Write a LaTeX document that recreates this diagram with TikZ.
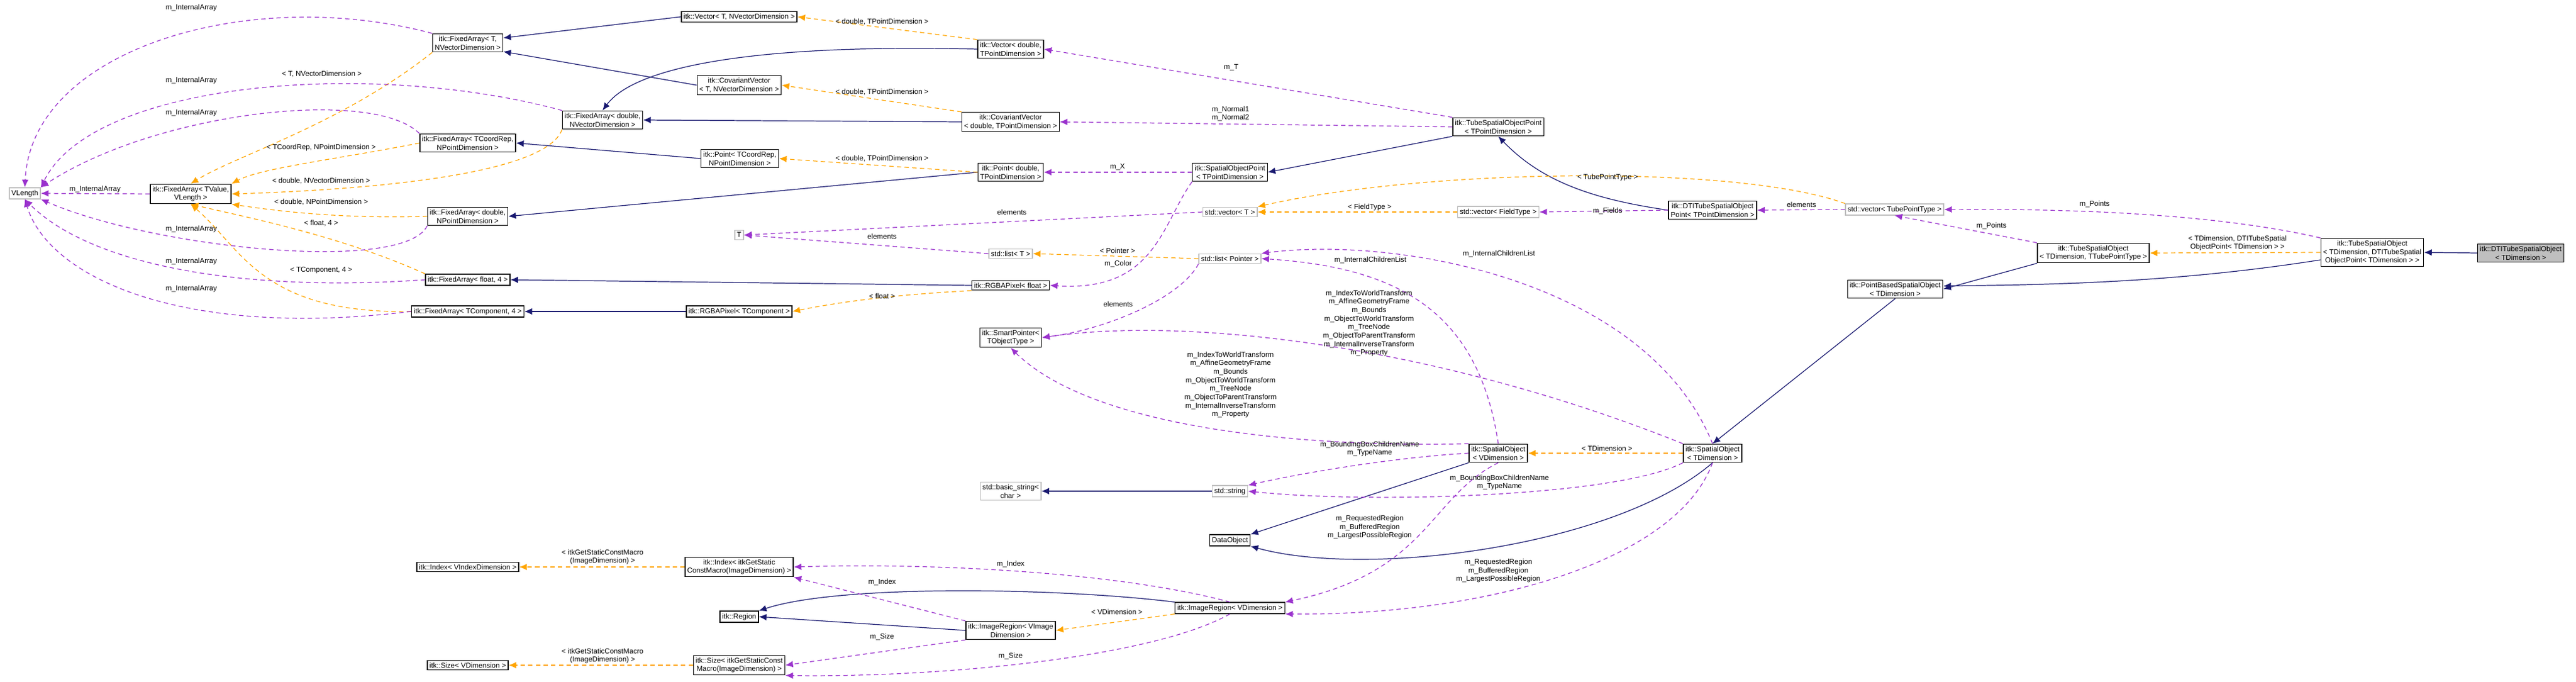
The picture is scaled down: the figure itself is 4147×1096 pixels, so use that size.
\documentclass[tikz,border=0pt]{standalone}
\usepackage{fontspec}
\setmainfont{Liberation Sans}
\usetikzlibrary{arrows.meta}
\definecolor{inhcol}{HTML}{191970}
\definecolor{usecol}{HTML}{9A32CD}
\definecolor{tplcol}{HTML}{FFA500}
\tikzset{
  cls/.style={draw=black, fill=white, line width=0.8pt, align=center, inner sep=2pt, font=\fontsize{6.6}{7.8}\selectfont},
  ext/.style={cls, draw=gray!50},
  main/.style={cls, fill=gray!50},
  lbl/.style={align=center, inner sep=0pt, font=\fontsize{6.6}{7.8}\selectfont},
  inh/.style={draw=inhcol, line width=0.7pt, -{Latex[length=7pt,width=6pt]}},
  use/.style={draw=usecol, line width=0.7pt, dash pattern=on 4pt off 3pt, -{Latex[length=7pt,width=6pt]}},
  tpl/.style={draw=tplcol, line width=0.7pt, dash pattern=on 4pt off 3pt, -{Latex[length=7pt,width=6pt]}}
}
\begin{document}
\begin{tikzpicture}[x=0.02cm, y=-0.02cm]
  \useasboundingbox (0,0) rectangle (4147,1096);

  % 左侧 FixedArray 一族
  \node[ext] (VL) at (40,311) {VLength};
  \node[cls] (FAtv) at (307,312) {itk::FixedArray< TValue,\\VLength >};
  \node[cls] (FAtn) at (753,69) {itk::FixedArray< T,\\NVectorDimension >};
  \node[cls] (FAdn) at (970,193) {itk::FixedArray< double,\\NVectorDimension >};
  \node[cls] (FAcp) at (753,230) {itk::FixedArray< TCoordRep,\\NPointDimension >};
  \node[cls] (FAdp) at (753,348) {itk::FixedArray< double,\\NPointDimension >};
  \node[cls] (FAf4) at (753,450) {itk::FixedArray< float, 4 >};
  \node[cls] (FAc4) at (753,501) {itk::FixedArray< TComponent, 4 >};

  % Vector, Point, Pixel
  \node[cls] (VecT) at (1190,27) {itk::Vector< T, NVectorDimension >};
  \node[cls] (VecD) at (1627,79) {itk::Vector< double,\\TPointDimension >};
  \node[cls] (CovT) at (1190,137) {itk::CovariantVector\\< T, NVectorDimension >};
  \node[cls] (CovD) at (1627,196) {itk::CovariantVector\\< double, TPointDimension >};
  \node[cls] (PtC) at (1191,255) {itk::Point< TCoordRep,\\NPointDimension >};
  \node[cls] (PtD) at (1627,277) {itk::Point< double,\\TPointDimension >};
  \node[ext] (T) at (1190,378) {T};
  \node[ext] (LstT) at (1627,408) {std::list< T >};
  \node[cls] (RgbF) at (1627,459) {itk::RGBAPixel< float >};
  \node[cls] (RgbC) at (1190,501) {itk::RGBAPixel< TComponent >};
  \node[cls] (SmPt) at (1627,543) {itk::SmartPointer<\\TObjectType >};

  % 点类与容器
  \node[cls] (SOPt) at (1980,277) {itk::SpatialObjectPoint\\< TPointDimension >};
  \node[ext] (VecTT) at (1980,341) {std::vector< T >};
  \node[ext] (LstP) at (1980,416) {std::list< Pointer >};
  \node[cls] (TSOPt) at (2412,204) {itk::TubeSpatialObjectPoint\\< TPointDimension >};
  \node[ext] (VecF) at (2412,341) {std::vector< FieldType >};
  \node[cls] (DTIPt) at (2757,338) {itk::DTITubeSpatialObject\\Point< TPointDimension >};
  \node[ext] (VecTP) at (3050,337) {std::vector< TubePointType >};

  % 空间对象
  \node[cls] (PBSO) at (3051,465) {itk::PointBasedSpatialObject\\< TDimension >};
  \node[cls] (TSOt) at (3370,407) {itk::TubeSpatialObject\\< TDimension, TTubePointType >};
  \node[cls] (TSOd) at (3819,406) {itk::TubeSpatialObject\\< TDimension, DTITubeSpatial\\ObjectPoint< TDimension > >};
  \node[main] (DTISO) at (4058,407) {itk::DTITubeSpatialObject\\< TDimension >};
  \node[cls] (SOv) at (2412,729) {itk::SpatialObject\\< VDimension >};
  \node[cls] (SOt) at (2757,729) {itk::SpatialObject\\< TDimension >};
  \node[ext] (BStr) at (1627,790) {std::basic\_string<\\char >};
  \node[ext] (Str) at (1980,790) {std::string};
  \node[cls] (DObj) at (1980,869) {DataObject};

  % 区域
  \node[cls] (IdxV) at (753,912) {itk::Index< VIndexDimension >};
  \node[cls] (IdxM) at (1190,912) {itk::Index< itkGetStatic\\ConstMacro(ImageDimension) >};
  \node[cls] (Reg) at (1190,992) {itk::Region};
  \node[cls] (SzV) at (753,1070) {itk::Size< VDimension >};
  \node[cls] (SzM) at (1190,1070) {itk::Size< itkGetStaticConst\\Macro(ImageDimension) >};
  \node[cls] (IRi) at (1627,1014) {itk::ImageRegion< VImage\\Dimension >};
  \node[cls] (IRv) at (1980,978) {itk::ImageRegion< VDimension >};

  % 继承
  \draw[inh] (VecT.west) -- (FAtn.east |- 0,61);
  \draw[inh] (CovT.west) -- (FAtn.east |- 0,83);
  \draw[inh] (VecD.west) .. controls (1200,70) and (1020,110) .. (FAdn.north);
  \draw[inh] (CovD.west) -- (FAdn.east);
  \draw[inh] (PtC.west) -- (FAcp.east);
  \draw[inh] (PtD.west) -- (FAdp.east);
  \draw[inh] (RgbF.west) -- (FAf4.east);
  \draw[inh] (RgbC.west) -- (FAc4.east);
  \draw[inh] (TSOPt.south west) -- (SOPt.east);
  \draw[inh] (DTIPt.west) .. controls (2560,320) and (2480,290) .. (TSOPt.south);
  \draw[inh] (Str.west) -- (BStr.east);
  \draw[inh] (SOv.south west) -- (DObj.north east);
  \draw[inh] (SOt.south) .. controls (2600,880) and (2200,930) .. (DObj.south east);
  \draw[inh] (PBSO.south) -- (SOt.north);
  \draw[inh] (TSOt.south west) -- (PBSO.east);
  \draw[inh] (TSOd.west |- 0,418) .. controls (3500,455) and (3300,458) .. (PBSO.east |- 0,460);
  \draw[inh] (DTISO.west) -- (TSOd.east);
  \draw[inh] (IRv.north west) .. controls (1700,945) and (1350,940) .. (Reg.north east);
  \draw[inh] (IRi.west) -- (Reg.east);

  % 模板实例
  \draw[tpl] (FAtn.south west) .. controls (550,200) and (380,250) .. (FAtv.north);
  \draw[tpl] (FAcp.west) .. controls (550,255) and (420,270) .. (FAtv.north east);
  \draw[tpl] (FAdn.south west) .. controls (880,280) and (600,305) .. (FAtv.east);
  \draw[tpl] (FAdp.west) .. controls (550,352) and (450,340) .. (FAtv.south east);
  \draw[tpl] (FAf4.north west) .. controls (550,380) and (400,350) .. (FAtv.south);
  \draw[tpl] (FAc4.west) .. controls (420,505) and (390,400) .. (FAtv.south);
  \draw[tpl] (VecD.north west) -- (VecT.east);
  \draw[tpl] (CovD.north west) -- (CovT.east);
  \draw[tpl] (PtD.west) -- (PtC.east);
  \draw[tpl] (RgbF.south west) .. controls (1520,470) and (1400,476) .. (RgbC.east);
  \draw[tpl] (LstP.west) -- (LstT.east);
  \draw[tpl] (VecF.west) -- (VecTT.east);
  \draw[tpl] (VecTP.north west) .. controls (2800,265) and (2300,270) .. (VecTT.north east);
  \draw[tpl] (TSOd.west) -- (TSOt.east);
  \draw[tpl] (SOt.west) -- (SOv.east);
  \draw[tpl] (IRv.south west) -- (IRi.east);
  \draw[tpl] (IdxM.west) -- (IdxV.east);
  \draw[tpl] (SzM.west) -- (SzV.east);

  % 成员
  \draw[use] (FAtv.west) -- (VL.east);
  \draw[use] (FAtn.north west) .. controls (400,-25) and (50,80) .. (VL.north);
  \draw[use] (FAdn.north west) .. controls (600,95) and (150,130) .. (VL.north east);
  \draw[use] (FAcp.north west) .. controls (600,140) and (250,180) .. (VL.north east);
  \draw[use] (FAdp.south west) .. controls (650,440) and (250,400) .. (VL.south east);
  \draw[use] (FAf4.west) .. controls (400,470) and (150,430) .. (VL.south);
  \draw[use] (FAc4.west) .. controls (300,545) and (80,450) .. (VL.south);
  \draw[use] (TSOPt.north west) -- (VecD.east);
  \draw[use] (TSOPt.west) -- (CovD.east);
  \draw[use] (SOPt.west) -- (PtD.east);
  \draw[use] (SOPt.south west) .. controls (1870,360) and (1860,470) .. (RgbF.east);
  \draw[use] (VecTT.west) -- (T.east);
  \draw[use] (LstT.west) -- (T.east);
  \draw[use] (LstP.south west) .. controls (1900,480) and (1780,530) .. (SmPt.east);
  \draw[use] (DTIPt.west) -- (VecF.east);
  \draw[use] (VecTP.west) -- (DTIPt.east);
  \draw[use] (TSOd.north west) .. controls (3550,340) and (3300,336) .. (VecTP.east);
  \draw[use] (TSOt.north west) -- (VecTP.south);
  \draw[use] (SOv.north) .. controls (2380,500) and (2250,430) .. (LstP.east);
  \draw[use] (SOt.north) .. controls (2650,450) and (2250,380) .. (LstP.north east);
  \draw[use] (SOt.north west) .. controls (2300,550) and (1900,510) .. (SmPt.east);
  \draw[use] (SOv.north west) .. controls (2100,720) and (1760,690) .. (SmPt.south);
  \draw[use] (SOv.west) .. controls (2250,735) and (2100,760) .. (Str.north east);
  \draw[use] (SOt.south west) .. controls (2600,800) and (2200,810) .. (Str.east);
  \draw[use] (SOv.south) .. controls (2300,800) and (2300,920) .. (IRv.north east);
  \draw[use] (SOt.south) .. controls (2700,900) and (2400,990) .. (IRv.south east);
  \draw[use] (IRv.north) .. controls (1800,920) and (1500,905) .. (IdxM.east);
  \draw[use] (IRi.north west) -- (IdxM.south east);
  \draw[use] (IRi.south west) -- (SzM.east);
  \draw[use] (IRv.south) .. controls (1850,1060) and (1500,1090) .. (SzM.south east);

  % 标签
  \node[lbl] (l1) at (308,12) {m\_InternalArray};
  \node[lbl] (l2) at (308,129) {m\_InternalArray};
  \node[lbl] (l3) at (308,181) {m\_InternalArray};
  \node[lbl] (l4) at (153,304) {m\_InternalArray};
  \node[lbl] (l5) at (308,368) {m\_InternalArray};
  \node[lbl] (l6) at (308,420) {m\_InternalArray};
  \node[lbl] (l7) at (308,464) {m\_InternalArray};
  \node[lbl] (l8) at (518,119) {< T, NVectorDimension >};
  \node[lbl] (l9) at (517,237) {< TCoordRep, NPointDimension >};
  \node[lbl] (l10) at (517,291) {< double, NVectorDimension >};
  \node[lbl] (l11) at (517,325) {< double, NPointDimension >};
  \node[lbl] (l12) at (517,359) {< float, 4 >};
  \node[lbl] (l13) at (517,435) {< TComponent, 4 >};
  \node[lbl] (l14) at (1420,35) {< double, TPointDimension >};
  \node[lbl] (l15) at (1420,148) {< double, TPointDimension >};
  \node[lbl] (l16) at (1420,255) {< double, TPointDimension >};
  \node[lbl] (l17) at (1982,109) {m\_T};
  \node[lbl] (l18) at (1981,183) {m\_Normal1\\m\_Normal2};
  \node[lbl] (l19) at (1799,269) {m\_X};
  \node[lbl] (l20) at (1629,341) {elements};
  \node[lbl] (l21) at (1420,380) {elements};
  \node[lbl] (l22) at (1799,403) {< Pointer >};
  \node[lbl] (l23) at (1800,424) {m\_Color};
  \node[lbl] (l24) at (1420,476) {< float >};
  \node[lbl] (l25) at (1800,489) {elements};
  \node[lbl] (l26) at (2588,285) {< TubePointType >};
  \node[lbl] (l27) at (2205,333) {< FieldType >};
  \node[lbl] (l28) at (2588,339) {m\_Fields};
  \node[lbl] (l29) at (2900,329) {elements};
  \node[lbl] (l30) at (3372,328) {m\_Points};
  \node[lbl] (l31) at (3206,363) {m\_Points};
  \node[lbl] (l32) at (3602,391) {< TDimension, DTITubeSpatial\\ObjectPoint< TDimension > >};
  \node[lbl] (l33) at (2413,408) {m\_InternalChildrenList};
  \node[lbl] (l34) at (2206,418) {m\_InternalChildrenList};
  \node[lbl] (l35) at (2204,520) {m\_IndexToWorldTransform\\m\_AffineGeometryFrame\\m\_Bounds\\m\_ObjectToWorldTransform\\m\_TreeNode\\m\_ObjectToParentTransform\\m\_InternalInverseTransform\\m\_Property};
  \node[lbl] (l36) at (1981,619) {m\_IndexToWorldTransform\\m\_AffineGeometryFrame\\m\_Bounds\\m\_ObjectToWorldTransform\\m\_TreeNode\\m\_ObjectToParentTransform\\m\_InternalInverseTransform\\m\_Property};
  \node[lbl] (l37) at (2587,721) {< TDimension >};
  \node[lbl] (l38) at (2205,722) {m\_BoundingBoxChildrenName\\m\_TypeName};
  \node[lbl] (l39) at (2414,776) {m\_BoundingBoxChildrenName\\m\_TypeName};
  \node[lbl] (l40) at (2205,848) {m\_RequestedRegion\\m\_BufferedRegion\\m\_LargestPossibleRegion};
  \node[lbl] (l41) at (2412,918) {m\_RequestedRegion\\m\_BufferedRegion\\m\_LargestPossibleRegion};
  \node[lbl] (l42) at (1627,907) {m\_Index};
  \node[lbl] (l43) at (1420,936) {m\_Index};
  \node[lbl] (l44) at (1798,984) {< VDimension >};
  \node[lbl] (l45) at (1420,1024) {m\_Size};
  \node[lbl] (l46) at (1627,1055) {m\_Size};
  \node[lbl] (l47) at (970,896) {< itkGetStaticConstMacro\\(ImageDimension) >};
  \node[lbl] (l48) at (970,1055) {< itkGetStaticConstMacro\\(ImageDimension) >};

\end{tikzpicture}
\end{document}
